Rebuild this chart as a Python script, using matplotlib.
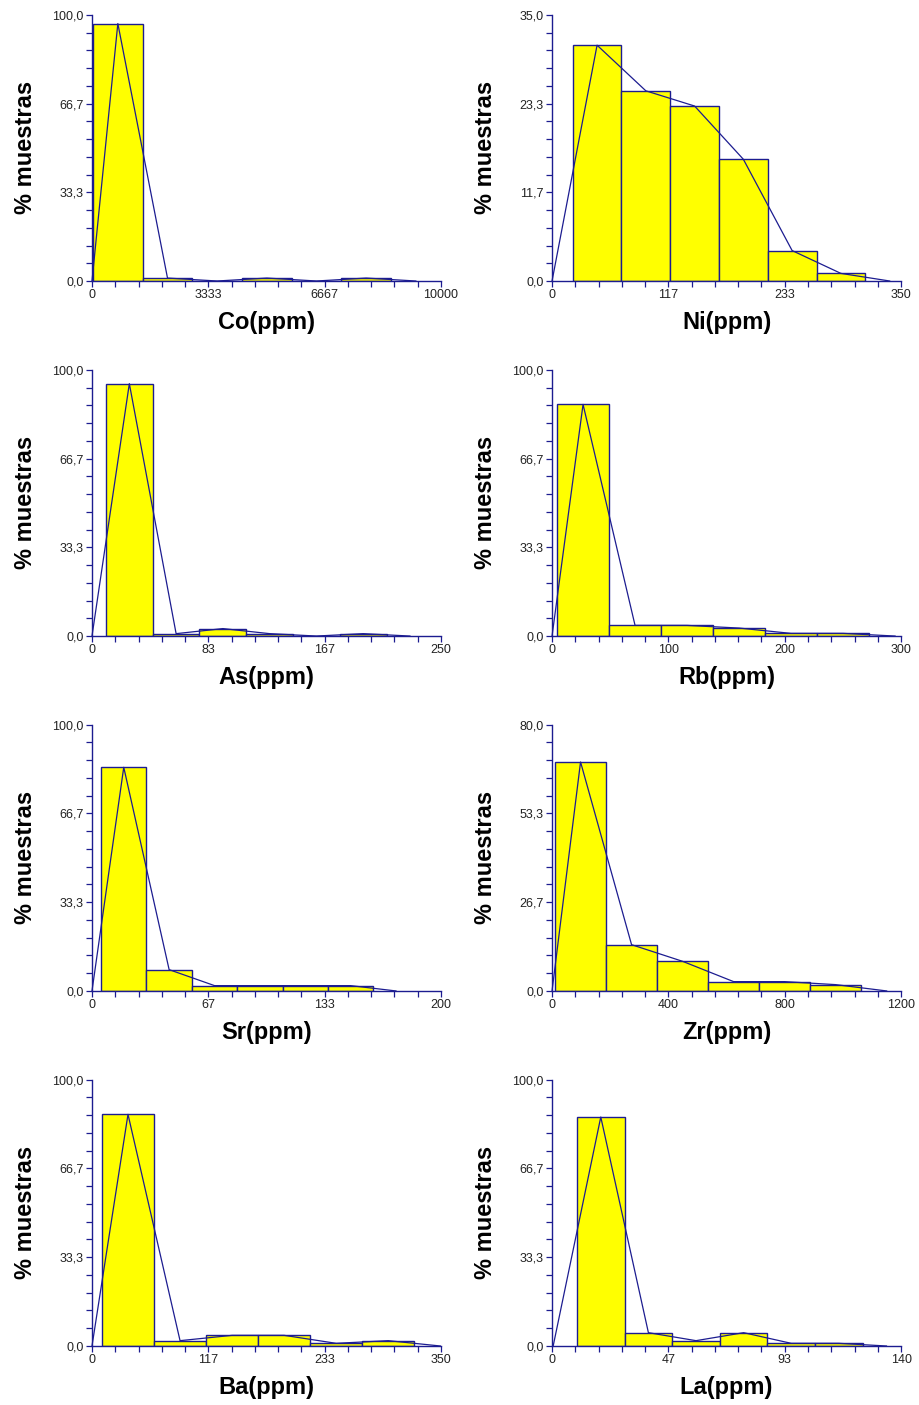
import numpy as np
import matplotlib
matplotlib.use('Agg')
import matplotlib.pyplot as plt

plt.rcParams['font.family'] = ['Liberation Sans', 'DejaVu Sans']

# histogram data: first bin start, bin width, % of samples per bin, axis limits
names = ['Co(ppm)', 'Ni(ppm)', 'As(ppm)', 'Rb(ppm)',
         'Sr(ppm)', 'Zr(ppm)', 'Ba(ppm)', 'La(ppm)']
bin_start = [29, 20.7, 10.0, 4.3, 5.2, 10.3, 10.0, 10.0]
bin_width = [1423, 48.9, 33.5, 44.7, 26.0, 175.4, 52.2, 19.1]
pct_co = [96.7, 1.1, 0.0, 1.1, 0.0, 1.1]
pct_ni = [31.0, 25.0, 23.0, 16.0, 4.0, 1.0]
pct_as = [94.8, 0.9, 2.8, 0.9, 0.0, 0.9]
pct_rb = [87.0, 4.0, 4.0, 3.0, 1.0, 1.0]
pct_sr = [84.0, 8.0, 2.0, 2.0, 2.0, 2.0]
pct_zr = [68.8, 13.9, 8.9, 2.8, 2.8, 1.9]
pct_ba = [87.0, 2.0, 4.0, 4.0, 1.0, 2.0]
pct_la = [86.0, 5.0, 2.0, 5.0, 1.0, 1.0]
pcts = [pct_co, pct_ni, pct_as, pct_rb, pct_sr, pct_zr, pct_ba, pct_la]
x_max = [10000, 350, 250, 300, 200, 1200, 350, 140]
y_max = [100.0, 35.0, 100.0, 100.0, 100.0, 80.0, 100.0, 100.0]

navy = '#1c1c90'
yellow = '#ffff00'

fig = plt.figure(figsize=(9.19, 14.05), dpi=100)

lefts = [0.1001, 0.6007]
bottoms = [0.800, 0.5473, 0.2947, 0.042]
w, h = 0.3798, 0.1895

for i in range(8):
    ax = fig.add_axes([lefts[i % 2], bottoms[i // 2], w, h])
    pct = np.array(pcts[i])
    bw = bin_width[i]
    edges = bin_start[i] + bw * np.arange(len(pct))
    ax.bar(edges, pct, width=bw, align='edge', color=yellow,
           edgecolor=navy, linewidth=1.0, zorder=2)

    # frequency polygon through bin centres
    centres = edges + bw / 2
    px = np.concatenate([[max(0, centres[0] - bw)], centres, [centres[-1] + bw]])
    py = np.concatenate([[0], pct, [0]])
    ax.plot(px, py, color=navy, linewidth=0.9, zorder=3, clip_on=False)

    ax.set_xlim(0, x_max[i])
    ax.set_ylim(0, y_max[i])

    xt = np.linspace(0, x_max[i], 4)
    yt = np.linspace(0, y_max[i], 4)
    ax.set_xticks(xt)
    ax.set_xticklabels(['%d' % round(v) for v in xt])
    ax.set_yticks(yt)
    ax.set_yticklabels([('%.1f' % v).replace('.', ',') for v in yt])
    ax.set_xticks(np.linspace(0, x_max[i], 16), minor=True)
    ax.set_yticks(np.linspace(0, y_max[i], 16), minor=True)

    for s in ['top', 'right']:
        ax.spines[s].set_visible(False)
    for s in ['left', 'bottom']:
        ax.spines[s].set_color(navy)
        ax.spines[s].set_linewidth(1.0)
    ax.tick_params(which='both', direction='out', length=4.5, width=0.9,
                   color=navy, labelsize=9, labelcolor='#222222', pad=1.5)

    ax.set_xlabel(names[i], fontsize=17, fontweight='bold')
    ax.xaxis.label.set_va('center')
    ax.xaxis.set_label_coords(0.5, -0.155)
    ax.set_ylabel('% muestras', fontsize=17, fontweight='bold')
    ax.yaxis.label.set_va('center')
    ax.yaxis.set_label_coords(-0.19, 0.5)

fig.savefig('out.png', dpi=100)
